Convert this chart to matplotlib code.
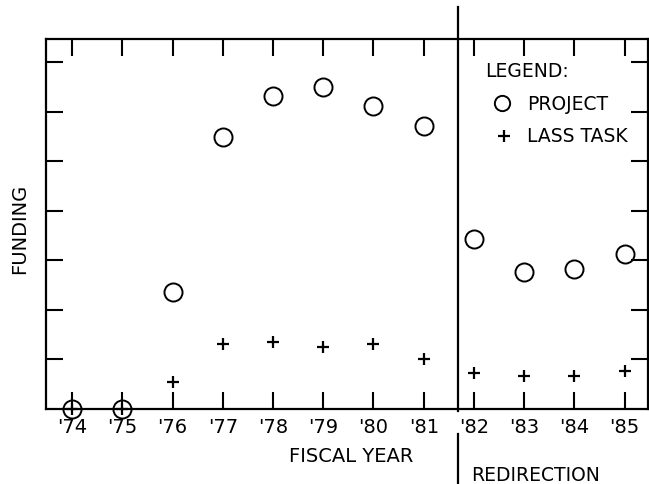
"""
Funding per fiscal year: project vs LASS task, with redirection after '81.
"""

import matplotlib
matplotlib.use('Agg')
import matplotlib.pyplot as plt
import matplotlib.transforms as mtransforms

# data (arbitrary funding units)
years = [74, 75, 76, 77, 78, 79, 80, 81, 82, 83, 84, 85]
year_labels = ["'74", "'75", "'76", "'77", "'78", "'79", "'80", "'81",
               "'82", "'83", "'84", "'85"]
project = [0, 0, 2.36, 5.49, 6.32, 6.5, 6.12, 5.72, 3.43, 2.77, 2.83, 3.13]
lass_task = [0, 0, 0.55, 1.31, 1.35, 1.25, 1.31, 1.01, 0.73, 0.67, 0.67, 0.77]
redirection_year = 81.68


def main():
    plt.rcParams['font.family'] = ['DejaVu Sans']
    fig = plt.figure(figsize=(6.49, 4.85), dpi=100)
    ax = fig.add_axes([0.0709, 0.1546, 0.9271, 0.7629])

    # points
    ax.plot(years, project, linestyle='none', marker='o', markersize=13,
            markerfacecolor='none', markeredgecolor='black', markeredgewidth=1.4,
            clip_on=False, zorder=3)
    ax.plot(years, lass_task, linestyle='none', marker='+', markersize=9,
            color='black', markeredgewidth=1.6, clip_on=False, zorder=3)

    ax.set_xlim(73.48, 85.46)
    ax.set_ylim(0, 7.47)

    # ticks inward on all sides
    ax.set_xticks(years)
    ax.set_xticklabels(year_labels, fontsize=14)
    ax.set_yticks(range(1, 8))
    ax.set_yticklabels([])
    ax.tick_params(axis='x', direction='in', length=12, width=1.5, top=True,
                   pad=6)
    ax.tick_params(axis='y', direction='in', length=12, width=1.5, right=True,
                   left=True)
    for spine in ax.spines.values():
        spine.set_linewidth(1.6)

    ax.set_ylabel('FUNDING', fontsize=14)
    ax.yaxis.set_label_coords(-0.028, 0.49)
    fig.text(0.541, 0.058, 'FISCAL YEAR', ha='center', va='center', fontsize=14)
    fig.text(0.726, 0.019, 'REDIRECTION', ha='left', va='center', fontsize=13.5)

    # redirection divider line, extending outside the axes
    trans = mtransforms.blended_transform_factory(ax.transData, ax.transAxes)
    ax.plot([redirection_year, redirection_year], [1.0865, -0.005], color='black',
            linewidth=1.6, transform=trans, clip_on=False)
    ax.plot([redirection_year, redirection_year], [-0.0676, -0.21], color='black',
            linewidth=1.6, transform=trans, clip_on=False)

    # hand-made legend
    fig.text(0.747, 0.853, 'LEGEND:', ha='left', va='center', fontsize=13.5)
    fig.text(0.812, 0.785, 'PROJECT', ha='left', va='center', fontsize=13.5)
    fig.text(0.812, 0.718, 'LASS TASK', ha='left', va='center', fontsize=13.5)
    fig.lines.append(plt.Line2D([0.774], [0.785], marker='o', markersize=11,
                                markerfacecolor='none', markeredgecolor='black',
                                markeredgewidth=1.4, transform=fig.transFigure))
    fig.lines.append(plt.Line2D([0.777], [0.718], marker='+', markersize=9,
                                color='black', markeredgewidth=1.6,
                                transform=fig.transFigure))

    fig.savefig('out.png', dpi=100)


if __name__ == "__main__":
    main()
